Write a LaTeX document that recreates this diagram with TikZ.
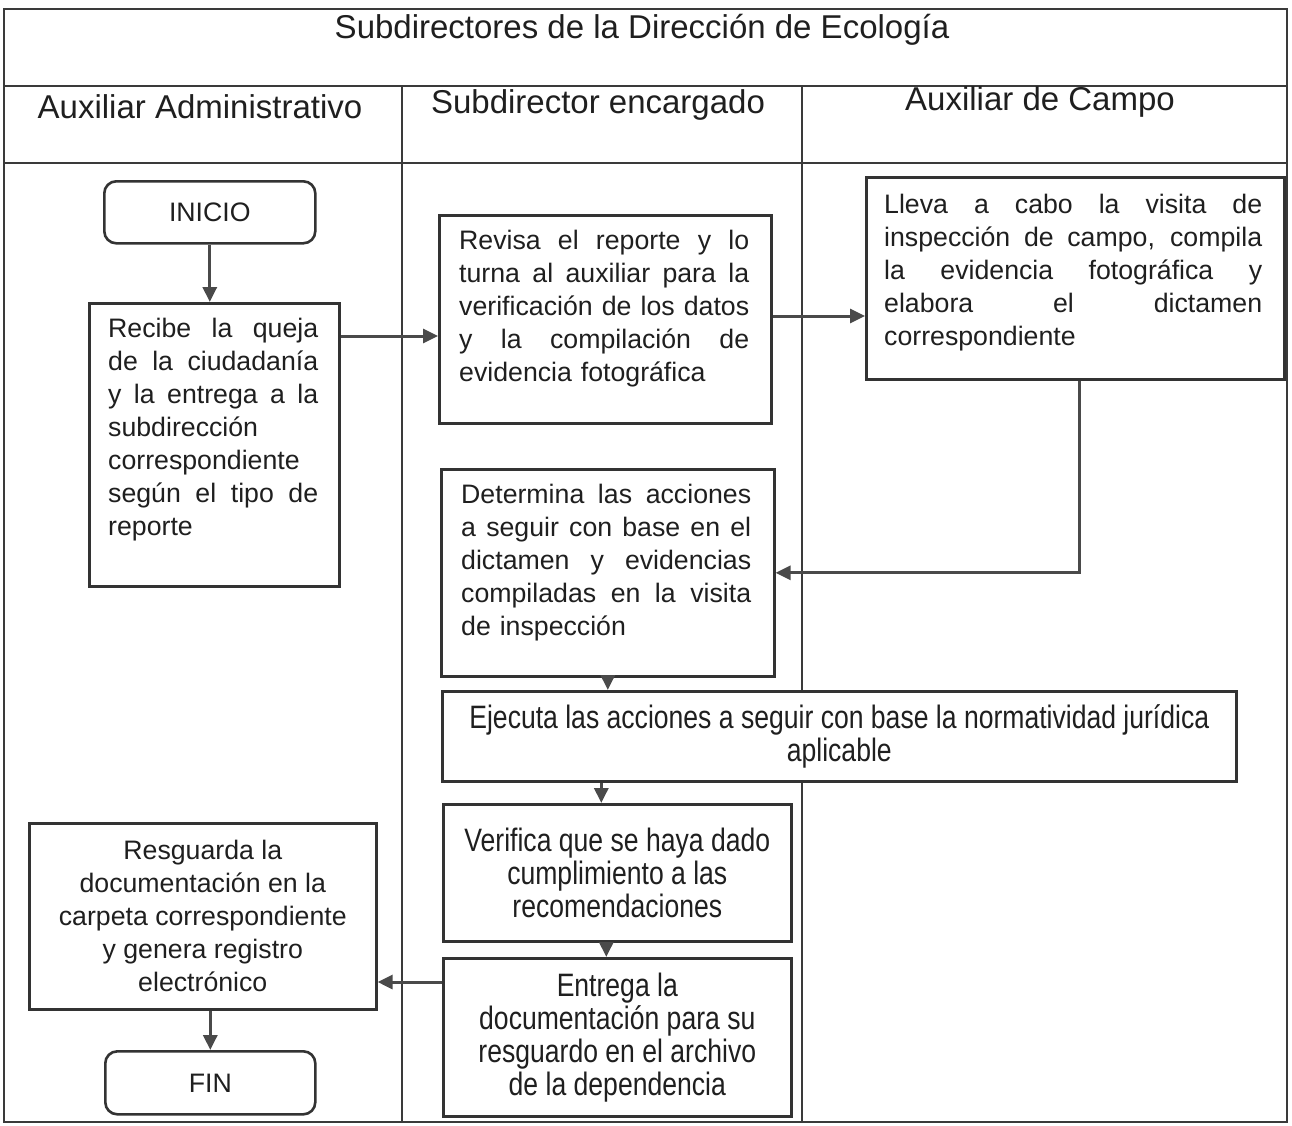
\documentclass[tikz,border=0pt]{standalone}
\usepackage{fontspec}
\setmainfont{Liberation Sans}
\newfontfamily\narrowf[FakeStretch=0.82]{Liberation Sans}
\usetikzlibrary{arrows.meta,calc}
\definecolor{ink}{HTML}{1F1F1F}
\definecolor{boxline}{HTML}{333333}
\definecolor{arrowgray}{HTML}{4A4A4A}
\definecolor{lane}{HTML}{3A3A3A}
\newcommand{\jl}[1]{\makebox[\hsize][s]{\spaceskip=0pt\xspaceskip=0pt #1}}
\begin{document}
\begin{tikzpicture}[x=1pt,y=-1pt,
 stepbox/.style={draw=boxline, line width=2.6pt, fill=white, inner sep=0pt, anchor=north west},
 roundbox/.style={stepbox, rounded corners=12pt},
 bodytext/.style={text=ink, inner sep=0pt, anchor=north west, align=left, font=\fontsize{26.7}{33}\selectfont},
 ctext/.style={text=ink, align=center, font=\fontsize{26.7}{33}\selectfont},
 ntext/.style={text=ink, align=center, font=\narrowf\fontsize{32.4}{33}\selectfont},
 head/.style={text=ink, inner sep=0pt, font=\fontsize{33}{38}\selectfont},
 lanerule/.style={draw=lane, line width=1.6pt},
 flow/.style={draw=arrowgray, line width=3pt, -{Triangle[length=15pt,width=14pt]}},
]
\useasboundingbox (0,0) rectangle (1292,1125);
\fill[white] (0,0) rectangle (1292,1125);
% frame and lanes
\draw[lanerule, line width=2pt] (4,9) rectangle (1287,1122);
\draw[lanerule] (4,86) -- (1287,86);
\draw[lanerule] (4,163) -- (1287,163);
\draw[lanerule] (402,86) -- (402,1122);
\draw[lanerule] (802,86) -- (802,1122);
% headers
\node[head] (title) at (642,30) {Subdirectores de la Dirección de Ecología};
\node[head] (h1) at (200,107) {Auxiliar Administrativo};
\node[head] (h2) at (598,105) {Subdirector encargado};
\node[head] (h3) at (1040,102) {Auxiliar de Campo};
% boxes
\node[roundbox, minimum width=211pt, minimum height=62pt, font=\fontsize{26.7}{33}\selectfont, text=ink] (inicio) at (103,180) {INICIO};
\node[stepbox, minimum width=250pt, minimum height=283pt] (recibe) at (88,302) {};
\node[bodytext, text width=210pt] (recibeT) at (108,318) {\jl{Recibe la queja}\\ \jl{de la ciudadanía}\\ \jl{y la entrega a la}\\ subdirección\\ correspondiente\\ \jl{según el tipo de}\\ reporte};
\node[stepbox, minimum width=332pt, minimum height=208pt] (revisa) at (438,214) {};
\node[bodytext, text width=290pt] (revisaT) at (459,230) {\jl{Revisa el reporte y lo}\\ \jl{turna al auxiliar para la}\\ \jl{verificación de los datos}\\ \jl{y la compilación de}\\ evidencia fotográfica};
\node[stepbox, minimum width=418pt, minimum height=202pt] (lleva) at (865,176) {};
\node[bodytext, text width=378pt] (llevaT) at (884,194) {\jl{Lleva a cabo la visita de}\\ \jl{inspección de campo, compila}\\ \jl{la evidencia fotográfica y}\\ \jl{elabora el dictamen}\\ correspondiente};
\node[stepbox, minimum width=333pt, minimum height=207pt] (determina) at (440,468) {};
\node[bodytext, text width=290pt] (determinaT) at (461,484) {\jl{Determina las acciones}\\ \jl{a seguir con base en el}\\ \jl{dictamen y evidencias}\\ \jl{compiladas en la visita}\\ de inspección};
\node[stepbox, ntext, minimum width=794pt, minimum height=90pt] (ejecuta) at (441,690) {Ejecuta las acciones a seguir con base la normatividad jurídica\\aplicable};
\node[stepbox, ntext, minimum width=348pt, minimum height=137pt] (verifica) at (442,803) {Verifica que se haya dado\\cumplimiento a las\\recomendaciones};
\node[stepbox, ntext, minimum width=348pt, minimum height=158pt] (entrega) at (442,957) {Entrega la\\documentación para su\\resguardo en el archivo\\de la dependencia};
\node[stepbox, ctext, minimum width=347pt, minimum height=186pt] (resguarda) at (28,822) {Resguarda la\\documentación en la\\carpeta correspondiente\\y genera registro\\electrónico};
\node[roundbox, minimum width=210pt, minimum height=63pt, font=\fontsize{26.7}{33}\selectfont, text=ink] (fin) at (104,1050) {FIN};
% connectors
\draw[flow] (inicio.south) -- (inicio.south |- recibe.north);
\draw[flow] ([yshift=-34pt]recibe.north east) -- ([yshift=-34pt]recibe.north east -| revisa.west);
\draw[flow] ([yshift=-102pt]revisa.north east) -- ([yshift=-102pt]revisa.north east -| lleva.west);
\draw[flow] ([xshift=4pt]lleva.south) |- (determina.east);
\draw[flow] (determina.south) -- (determina.south |- ejecuta.north);
\draw[flow] ([xshift=-16pt]verifica.north |- ejecuta.south) -- ([xshift=-16pt]verifica.north);
\draw[flow] ([xshift=-11pt]verifica.south) -- ([xshift=-11pt]entrega.north);
\draw[flow] ([yshift=-25pt]entrega.north west) -- ([yshift=-25pt]entrega.north west -| resguarda.east);
\draw[flow] (fin.north |- resguarda.south) -- (fin.north);
\end{tikzpicture}
\end{document}
